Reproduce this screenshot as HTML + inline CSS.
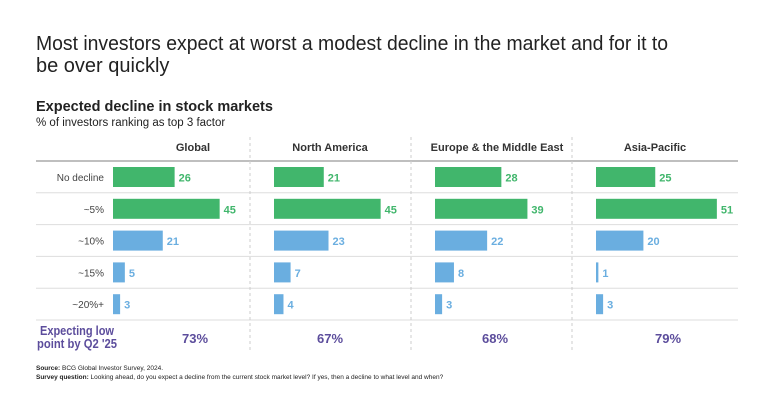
<!DOCTYPE html>
<html><head><meta charset="utf-8"><style>
html,body{margin:0;padding:0;background:#fff}
svg{display:block;font-family:"Liberation Sans",sans-serif}
</style></head><body>
<svg id="c" width="768" height="402" viewBox="0 0 768 402">
<text x="36" y="50" font-size="20" fill="#222" textLength="632" lengthAdjust="spacingAndGlyphs">Most investors expect at worst a modest decline in the market and for it to</text>
<text x="36" y="72" font-size="20" fill="#222">be over quickly</text>
<text x="36" y="111" font-size="14.5" font-weight="bold" fill="#222">Expected decline in stock markets</text>
<text x="36" y="126" font-size="11.5" fill="#222">% of investors ranking as top 3 factor</text>
<g id="g"></g>
<text x="36" y="370" font-size="6.5" fill="#222"><tspan font-weight="bold">Source:</tspan> BCG Global Investor Survey, 2024.</text>
<text x="36" y="379" font-size="6.5" fill="#222"><tspan font-weight="bold">Survey question:</tspan> Looking ahead, do you expect a decline from the current stock market level? If yes, then a decline to what level and when?</text>
</svg>
<script>
const regions = ["Global","North America","Europe & the Middle East","Asia-Pacific"];
const categories = ["No decline","~5%","~10%","~15%","~20%+"];
const valuesGlobal = [26,45,21,5,3];
const valuesNorthAmerica = [21,45,23,7,4];
const valuesEurope = [28,39,22,8,3];
const valuesAsiaPacific = [25,51,20,1,3];
const lowPoint = ["73%","67%","68%","79%"];

const series=[valuesGlobal,valuesNorthAmerica,valuesEurope,valuesAsiaPacific];
const g=document.getElementById('g');
const NS='http://www.w3.org/2000/svg';
function mk(t,a,txt){const e=document.createElementNS(NS,t);for(const k in a)e.setAttribute(k,a[k]);if(txt!=null)e.textContent=txt;g.appendChild(e);return e;}
const panelX=i=>113+i*161;
const xs=v=>v*2.37;
const rowY=j=>161+j*31.8;
const labelCx=[193,330,497,655];
const pctCx=[195,330,495,668];
let e=mk('line',{x1:36,x2:738,y1:161,y2:161,stroke:'#999','stroke-width':1.2});

for(let j=1;j<=5;j++){e=mk('line',{x1:36,x2:738,y1:rowY(j),y2:rowY(j),stroke:'#ddd','stroke-width':1});
}
for(let i=1;i<4;i++){e=mk('line',{x1:250+(i-1)*161,x2:250+(i-1)*161,y1:137,y2:350,stroke:'#ccc','stroke-dasharray':'3,3'});
}
categories.forEach((c,j)=>{e=mk('text',{x:104,y:rowY(j)+20,'font-size':10,'text-anchor':'end',fill:'#444'},c);
});
regions.forEach((r,i)=>{
 e=mk('text',{x:labelCx[i],y:151,'font-size':11,'font-weight':'bold','text-anchor':'middle',fill:'#333'},r);
 
 series[i].forEach((v,j)=>{
  const col=j<2?'#41b66c':'#6aaee0';
  const y=rowY(j)+6;
  e=mk('rect',{x:panelX(i),y:y,width:xs(v),height:20,fill:col});
  
  e=mk('text',{x:panelX(i)+xs(v)+4,y:y+14.5,'font-size':11,'font-weight':'bold',fill:col},v);
  
 });
 e=mk('text',{x:pctCx[i],y:343,'font-size':13,'font-weight':'bold','text-anchor':'middle',fill:'#5c4d9c'},lowPoint[i]);
 
});
e=mk('text',{x:40,y:335,'font-size':12.5,'font-weight':'bold',fill:'#5c4d9c',textLength:74,lengthAdjust:'spacingAndGlyphs'},'Expecting low');

e=mk('text',{x:37,y:348,'font-size':12.5,'font-weight':'bold',fill:'#5c4d9c',textLength:80,lengthAdjust:'spacingAndGlyphs'},"point by Q2 '25");

</script>
</body></html>
